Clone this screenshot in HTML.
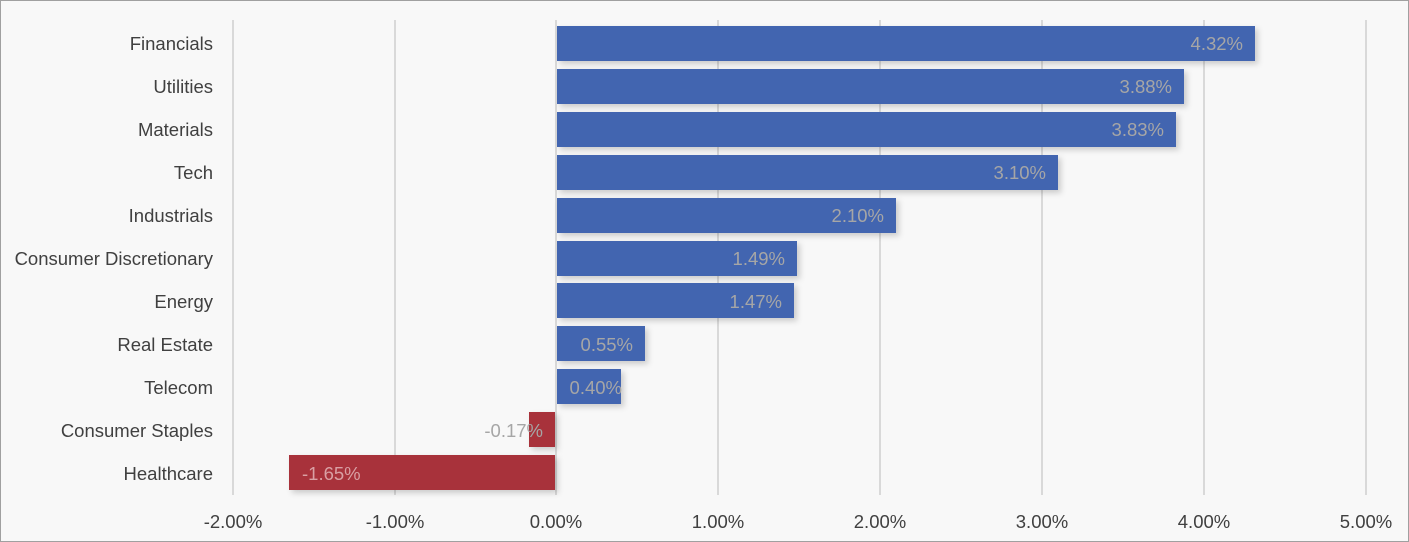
<!DOCTYPE html>
<html><head><style>body{margin:0;background:#f8f8f8}svg{display:block}</style></head><body>
<svg width="1409" height="542" xmlns="http://www.w3.org/2000/svg" font-family="Liberation Sans, sans-serif">
<defs><filter id="s" x="-10%" y="-20%" width="130%" height="160%"><feDropShadow dx="3" dy="3" stdDeviation="3" flood-color="#000" flood-opacity="0.18"/></filter></defs>
<rect x="0.5" y="0.5" width="1408" height="541" fill="#f8f8f8" stroke="#a0a0a0"/>
<g stroke="#d9d9d9" stroke-width="2">
<line x1="233" y1="20" x2="233" y2="495"/><line x1="395" y1="20" x2="395" y2="495"/><line x1="718" y1="20" x2="718" y2="495"/><line x1="880" y1="20" x2="880" y2="495"/><line x1="1042" y1="20" x2="1042" y2="495"/><line x1="1204" y1="20" x2="1204" y2="495"/><line x1="1366" y1="20" x2="1366" y2="495"/><line x1="556" y1="20" x2="556" y2="495"/>
</g>
<g filter="url(#s)" fill="#4365b0">
<rect x="557" y="26" width="698" height="35"/>
<rect x="557" y="69" width="627" height="35"/>
<rect x="557" y="112" width="619" height="35"/>
<rect x="557" y="155" width="501" height="35"/>
<rect x="557" y="198" width="339" height="35"/>
<rect x="557" y="241" width="240" height="35"/>
<rect x="557" y="283" width="237" height="35"/>
<rect x="557" y="326" width="88" height="35"/>
<rect x="557" y="369" width="64" height="35"/>
<rect x="529" y="412" width="26" height="35" fill="#a8323a"/>
<rect x="289" y="455" width="266" height="35" fill="#a8323a"/>
</g>
<g font-size="18.5" fill="#a6a6a6" text-anchor="end">
<text x="1243" y="50">4.32%</text><text x="1172" y="93">3.88%</text><text x="1164" y="136">3.83%</text><text x="1046" y="179">3.10%</text><text x="884" y="222">2.10%</text><text x="785" y="265">1.49%</text><text x="782" y="308">1.47%</text><text x="633" y="351">0.55%</text><text x="622" y="394">0.40%</text><text x="543" y="437">-0.17%</text>
</g>
<text x="302" y="480" font-size="18.5" fill="#d9a0a4">-1.65%</text>
<g font-size="18.5" fill="#404040" text-anchor="end">
<text x="213" y="50">Financials</text><text x="213" y="93">Utilities</text><text x="213" y="136">Materials</text><text x="213" y="179">Tech</text><text x="213" y="222">Industrials</text><text x="213" y="265">Consumer Discretionary</text><text x="213" y="308">Energy</text><text x="213" y="351">Real Estate</text><text x="213" y="394">Telecom</text><text x="213" y="437">Consumer Staples</text><text x="213" y="480">Healthcare</text>
</g>
<g font-size="18.5" fill="#404040" text-anchor="middle">
<text x="233" y="528">-2.00%</text><text x="395" y="528">-1.00%</text><text x="556" y="528">0.00%</text><text x="718" y="528">1.00%</text><text x="880" y="528">2.00%</text><text x="1042" y="528">3.00%</text><text x="1204" y="528">4.00%</text><text x="1366" y="528">5.00%</text>
</g>
</svg>
</body></html>
